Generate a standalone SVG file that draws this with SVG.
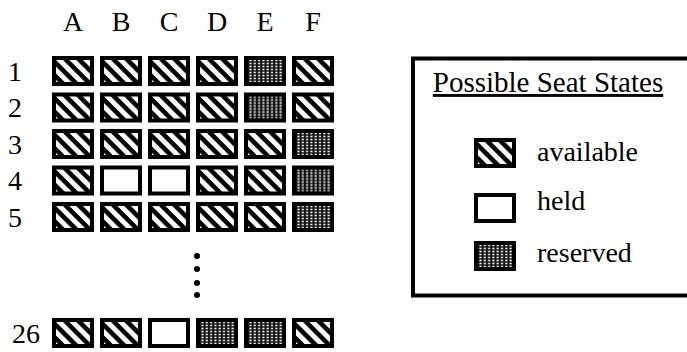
<svg xmlns="http://www.w3.org/2000/svg" width="687" height="352" viewBox="0 0 687 352">
  <style>
    text { font-family: "Liberation Serif", "Times New Roman", serif; fill: #000; font-size: 28px; }
    .mid { text-anchor: middle; }
    .title { font-size: 29px; }
    .seat { stroke: #000; stroke-width: 4; }
    .avail { fill: url(#stripes); }
    .held { fill: #fff; }
    .resv { fill: url(#dots); }
    .dot { fill: #000; }
    .frame { fill: none; stroke: #000; stroke-width: 4; }
  </style>
  <defs>
    <!-- diagonal "\" stripes for available seats -->
    <pattern id="stripes" patternUnits="userSpaceOnUse" width="9.5" height="9.5" patternTransform="rotate(45)">
      <rect width="9.5" height="9.5" fill="#fff"/>
      <rect width="9.5" height="4.6" fill="#000"/>
    </pattern>
    <!-- fine dotted screen for reserved seats -->
    <pattern id="dots" patternUnits="userSpaceOnUse" width="4.3" height="3">
      <rect width="4.3" height="3" fill="#111"/>
      <rect x="1.2" y="0.7" width="2" height="1.6" fill="#fff"/>
    </pattern>
    <rect id="seatA" class="seat avail" x="2" y="2" width="38" height="26"/>
    <rect id="seatH" class="seat held" x="2" y="2" width="38" height="26"/>
    <rect id="seatR" class="seat resv" x="2" y="2" width="38" height="26"/>
  </defs>

  <!-- column headings -->
  <g id="columns" class="mid">
    <text x="73" y="31">A</text>
    <text x="121" y="31">B</text>
    <text x="169" y="31">C</text>
    <text x="217" y="31">D</text>
    <text x="265" y="31">E</text>
    <text x="313" y="31">F</text>
  </g>

  <!-- row headings -->
  <g id="rows" class="mid">
    <text x="15" y="81">1</text>
    <text x="15" y="117">2</text>
    <text x="15" y="154">3</text>
    <text x="15" y="190">4</text>
    <text x="15" y="227">5</text>
    <text x="26" y="343">26</text>
  </g>

  <!-- seat map -->
  <g id="row1" transform="translate(0,56)">
    <use href="#seatA" x="52"/><use href="#seatA" x="100"/><use href="#seatA" x="148"/>
    <use href="#seatA" x="196"/><use href="#seatR" x="244"/><use href="#seatA" x="292"/>
  </g>
  <g id="row2" transform="translate(0,92.5)">
    <use href="#seatA" x="52"/><use href="#seatA" x="100"/><use href="#seatA" x="148"/>
    <use href="#seatA" x="196"/><use href="#seatR" x="244"/><use href="#seatA" x="292"/>
  </g>
  <g id="row3" transform="translate(0,129)">
    <use href="#seatA" x="52"/><use href="#seatA" x="100"/><use href="#seatA" x="148"/>
    <use href="#seatA" x="196"/><use href="#seatA" x="244"/><use href="#seatR" x="292"/>
  </g>
  <g id="row4" transform="translate(0,165.5)">
    <use href="#seatA" x="52"/><use href="#seatH" x="100"/><use href="#seatH" x="148"/>
    <use href="#seatA" x="196"/><use href="#seatA" x="244"/><use href="#seatR" x="292"/>
  </g>
  <g id="row5" transform="translate(0,202)">
    <use href="#seatA" x="52"/><use href="#seatA" x="100"/><use href="#seatA" x="148"/>
    <use href="#seatA" x="196"/><use href="#seatA" x="244"/><use href="#seatR" x="292"/>
  </g>

  <!-- ellipsis between row 5 and row 26 -->
  <g id="ellipsis">
    <circle class="dot" cx="197" cy="256" r="3"/>
    <circle class="dot" cx="197" cy="269" r="3"/>
    <circle class="dot" cx="197" cy="283" r="3"/>
    <circle class="dot" cx="197" cy="295" r="3"/>
  </g>

  <g id="row26" transform="translate(0,318)">
    <use href="#seatA" x="52"/><use href="#seatA" x="100"/><use href="#seatH" x="148"/>
    <use href="#seatR" x="196"/><use href="#seatR" x="244"/><use href="#seatA" x="292"/>
  </g>

  <!-- legend (frame runs past the right edge) -->
  <g id="legend">
    <rect class="frame" x="413" y="58.5" width="284" height="237"/>
    <text x="548" y="92" class="mid title" text-decoration="underline">Possible Seat States</text>
    <g id="legend-available" transform="translate(474,138)">
      <use href="#seatA"/>
      <text x="63" y="23">available</text>
    </g>
    <g id="legend-held" transform="translate(474,193)">
      <use href="#seatH"/>
      <text x="63" y="17">held</text>
    </g>
    <g id="legend-reserved" transform="translate(474,241)">
      <use href="#seatR"/>
      <text x="63" y="21">reserved</text>
    </g>
  </g>
</svg>
